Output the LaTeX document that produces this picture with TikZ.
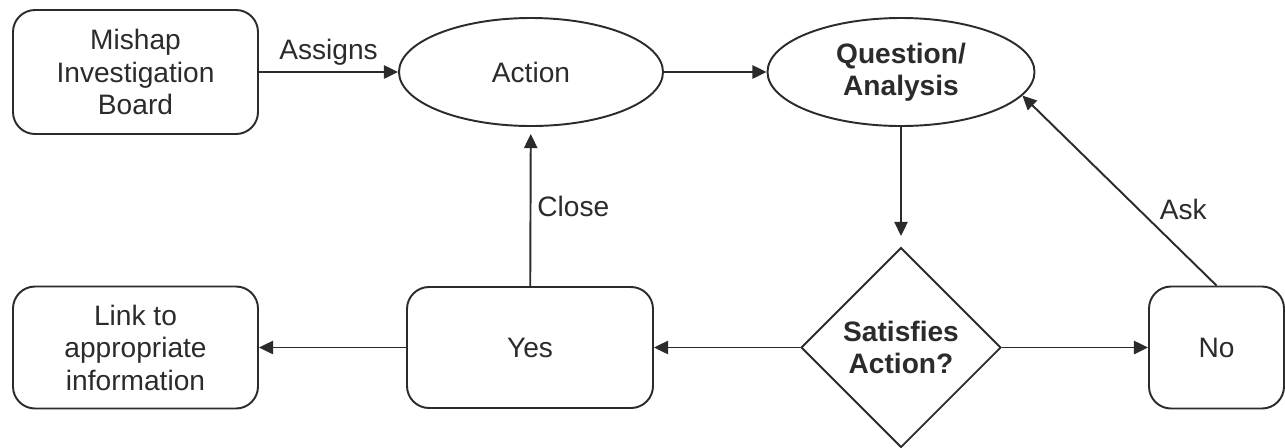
\documentclass[tikz,border=0pt]{standalone}
\usepackage{fontspec}
\setmainfont{Liberation Sans}
\usetikzlibrary{shapes.geometric,arrows.meta}
\definecolor{inkgray}{HTML}{2B2B2B}
\tikzset{
  flowbox/.style={draw=inkgray, line width=1.1pt, rounded corners=0.44cm, align=center},
  flowoval/.style={draw=inkgray, ellipse, line width=1.1pt, inner sep=0pt, align=center},
  flowtest/.style={draw=inkgray, diamond, aspect=1, line width=1.1pt, inner sep=0pt,
    minimum size=4cm, align=center, font=\fontsize{16}{18.5}\selectfont\bfseries},
  flowarrow/.style={-{Triangle[length=8pt,width=7.5pt]}, draw=inkgray, line width=1.1pt}
}
\begin{document}
\begin{tikzpicture}[every node/.style={text=inkgray, font=\fontsize{16}{18.5}\selectfont}]
  \useasboundingbox (0,0) rectangle (25.7,-8.94);
  % top row
  \node[flowbox, minimum width=4.9cm, minimum height=2.48cm] (board) at (2.71,-1.44)
    {Mishap\\Investigation\\Board};
  \node[flowoval, minimum width=5.28cm, minimum height=2.16cm] (action) at (10.62,-1.44) {Action};
  \node[flowoval, minimum width=5.34cm, minimum height=2.16cm, font=\fontsize{16}{18.5}\selectfont\bfseries]
    (question) at (18.02,-1.44) {Question/\\Analysis};
  % bottom row
  \node[flowtest] (decision) at (18.02,-6.95) {Satisfies\\Action?};
  \node[flowbox, minimum width=4.92cm, minimum height=2.42cm] (yes) at (10.6,-6.95) {Yes};
  \node[flowbox, minimum width=4.9cm, minimum height=2.44cm] (link) at (2.71,-6.95)
    {Link to\\appropriate\\information};
  \node[flowbox, minimum width=2.7cm, minimum height=2.44cm] (no) at (24.33,-6.95) {No};
  % connectors
  \draw[flowarrow] (board) -- node[above] {Assigns} (action);
  \draw[flowarrow] (action) -- (question);
  \draw[flowarrow, shorten >=6pt] (question) -- (decision);
  \draw[flowarrow] (decision) -- (yes);
  \draw[flowarrow] (decision) -- (no);
  \draw[flowarrow] (yes) -- (link);
  \draw[flowarrow, shorten >=4pt] (yes) -- node[right] {Close} (action);
  \draw[flowarrow] (no.north) -- node[pos=0.4, right=8pt] {Ask} (question.-11);
\end{tikzpicture}
\end{document}
